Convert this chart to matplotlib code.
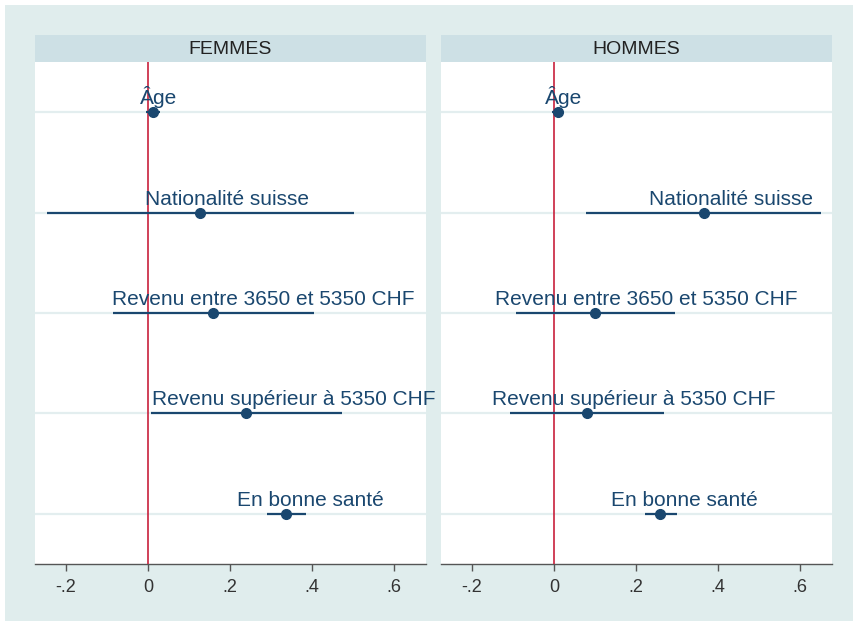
import matplotlib
matplotlib.use('Agg')
import matplotlib.pyplot as plt
from matplotlib.patches import Rectangle

plt.rcParams['font.family'] = ['Liberation Sans', 'DejaVu Sans']

# coefficient plot data
variables = ['Âge', 'Nationalité suisse', 'Revenu entre 3650 et 5350 CHF',
             'Revenu supérieur à 5350 CHF', 'En bonne santé']
panels = ['FEMMES', 'HOMMES']

femmes_coef = [0.011, 0.127, 0.159, 0.240, 0.336]
femmes_lo = [-0.005, -0.246, -0.085, 0.007, 0.289]
femmes_hi = [0.029, 0.502, 0.405, 0.474, 0.385]

hommes_coef = [0.009, 0.365, 0.101, 0.080, 0.259]
hommes_lo = [-0.004, 0.079, -0.092, -0.107, 0.223]
hommes_hi = [0.020, 0.650, 0.296, 0.269, 0.301]

xticks = [-0.2, 0, 0.2, 0.4, 0.6]
xticklabels = ['-.2', '0', '.2', '.4', '.6']

W, H = 854, 621
BG = '#e0eded'
HEAD = '#cde0e5'
NAVY = '#1a476f'
RED = '#c8203c'
GRID = '#e3eeef'

fig = plt.figure(figsize=(W / 100, H / 100), dpi=100)
fig.patch.set_facecolor('white')
fig.patches.append(Rectangle((5 / W, 0), 1, 1 - 5 / H, transform=fig.transFigure,
                             facecolor=BG, edgecolor='none', zorder=-10))

panel_x = [35, 441]
panel_w = 391
top, head_top, bottom = 62, 35, 564

data = [(femmes_coef, femmes_lo, femmes_hi), (hommes_coef, hommes_lo, hommes_hi)]
annots = []
for px, title, (coef, lo, hi) in zip(panel_x, panels, data):
    # header strip
    hax = fig.add_axes([px / W, 1 - top / H, panel_w / W, (top - head_top) / H])
    hax.set_facecolor(HEAD)
    hax.set_xticks([])
    hax.set_yticks([])
    for s in hax.spines.values():
        s.set_visible(False)
    hax.text(0.5, 0.45, title, ha='center', va='center', fontsize=14, color='#222222',
             transform=hax.transAxes)

    ax = fig.add_axes([px / W, 1 - bottom / H, panel_w / W, (bottom - top) / H])
    ax.set_facecolor('white')
    ax.set_xlim(-0.2756, 0.678)
    ax.set_ylim(len(variables) + 0.5, 0.5)
    ypos = list(range(1, len(variables) + 1))
    for y in ypos:
        ax.axhline(y, color=GRID, lw=1.6, zorder=0)
    ax.axvline(0, color=RED, lw=1.2, zorder=3)
    ax.hlines(ypos, lo, hi, color=NAVY, lw=1.6, zorder=4)
    ax.plot(coef, ypos, 'o', color=NAVY, ms=7, zorder=5)
    for name, c, y in zip(variables, coef, ypos):
        a = ax.annotate(name, (c, y), xytext=(0, 8), textcoords='offset pixels',
                        ha='center', va='baseline', fontsize=15, color=NAVY, zorder=6)
        annots.append(a)

    ax.set_xticks(xticks)
    ax.set_xticklabels(xticklabels, fontsize=13, color='#333333')
    ax.set_yticks([])
    for s in ['top', 'right', 'left']:
        ax.spines[s].set_visible(False)
    ax.spines['bottom'].set_color('#555555')
    ax.spines['bottom'].set_linewidth(1.0)
    ax.tick_params(axis='x', length=5, width=1.0, color='#555555', pad=6)

# shift labels right by a sixth of their width, as in the original
fig.canvas.draw()
renderer = fig.canvas.get_renderer()
for a in annots:
    w = a.get_window_extent(renderer).width
    a.xyann = (w / 6, 8)

fig.savefig('out.png', dpi=100, facecolor=fig.get_facecolor())
